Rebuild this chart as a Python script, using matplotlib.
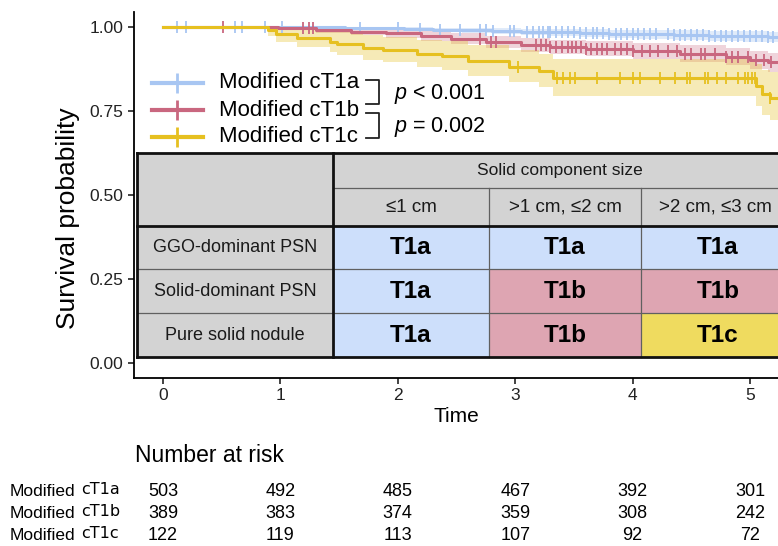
import numpy as np
import matplotlib
matplotlib.use('Agg')
import matplotlib.pyplot as plt
from matplotlib.patches import Rectangle
from matplotlib.transforms import blended_transform_factory

plt.rcParams['font.family'] = ['Liberation Sans', 'DejaVu Sans']
plt.rcParams['mathtext.fontset'] = 'custom'
plt.rcParams['mathtext.rm'] = 'Liberation Sans'
plt.rcParams['mathtext.it'] = 'Liberation Sans:italic'

# --- survival curves (step points) ---
groups = ['cT1a', 'cT1b', 'cT1c']
colors = ['#a8c6f2', '#c9677f', '#e6c020']

t1a_time = [0, 1.30, 1.55, 1.80, 2.05, 2.30, 2.55, 2.80, 3.05, 3.30, 3.55, 3.80, 4.05,
            4.35, 4.65, 4.95, 5.15, 5.40]
t1a_surv = [1.0, 0.999, 0.997, 0.996, 0.994, 0.992, 0.990, 0.988, 0.986, 0.984, 0.982,
            0.980, 0.978, 0.976, 0.974, 0.972, 0.970, 0.970]
t1a_lo = [1.0, 0.997, 0.993, 0.991, 0.988, 0.985, 0.982, 0.979, 0.976, 0.973, 0.970,
          0.967, 0.964, 0.962, 0.959, 0.956, 0.954, 0.954]
t1a_hi = [1.0, 1.0, 1.0, 1.0, 0.999, 0.998, 0.997, 0.996, 0.995, 0.994, 0.993, 0.992,
          0.991, 0.990, 0.989, 0.987, 0.986, 0.986]
t1a_cens = [0.12, 0.20, 0.61, 0.67, 0.87, 1.01, 1.68, 2.00, 2.19, 2.36, 2.53, 2.70, 2.75,
            2.81, 2.96, 2.99, 3.10, 3.15, 3.20, 3.24, 3.28, 3.30, 3.35, 3.40, 3.45, 3.50,
            3.55, 3.60, 3.66, 3.70, 3.75, 3.80, 3.86, 3.90, 3.95, 4.00, 4.05, 4.10, 4.15,
            4.20, 4.30, 4.35, 4.40, 4.45, 4.50, 4.55, 4.60, 4.65, 4.70, 4.75, 4.80, 4.85,
            4.90, 4.95, 5.00, 5.05, 5.10, 5.15, 5.20]

t1b_time = [0, 0.98, 1.30, 1.60, 1.90, 2.20, 2.45, 2.75, 3.05, 3.30, 3.60, 4.00, 4.40,
            4.80, 5.00, 5.15, 5.40]
t1b_surv = [1.0, 0.997, 0.990, 0.986, 0.981, 0.973, 0.965, 0.955, 0.947, 0.940, 0.935,
            0.928, 0.921, 0.912, 0.903, 0.895, 0.895]
t1b_lo = [1.0, 0.991, 0.981, 0.975, 0.968, 0.958, 0.948, 0.936, 0.927, 0.919, 0.913,
          0.905, 0.897, 0.886, 0.876, 0.866, 0.866]
t1b_hi = [1.0, 1.0, 0.999, 0.997, 0.994, 0.988, 0.982, 0.974, 0.967, 0.961, 0.957,
          0.951, 0.945, 0.938, 0.930, 0.924, 0.924]
t1b_cens = [0.51, 1.19, 1.24, 1.28, 2.70, 2.79, 2.84, 3.18, 3.22, 3.26, 3.30, 3.35, 3.40,
            3.45, 3.48, 3.52, 3.56, 3.60, 3.65, 3.70, 3.74, 3.78, 3.85, 3.90, 3.95, 4.00,
            4.08, 4.15, 4.22, 4.30, 4.38, 4.45, 4.50, 4.58, 4.62, 4.70, 4.80, 4.85, 4.90,
            4.98, 5.05, 5.12, 5.18]

t1c_time = [0, 0.895, 0.96, 1.14, 1.42, 1.48, 1.70, 1.87, 2.16, 2.38, 2.60, 2.95, 3.20,
            3.32, 5.05, 5.10, 5.17, 5.40]
t1c_surv = [1.0, 0.990, 0.979, 0.968, 0.956, 0.950, 0.937, 0.932, 0.920, 0.913, 0.898,
            0.882, 0.868, 0.848, 0.825, 0.800, 0.790, 0.790]
t1c_lo = [1.0, 0.972, 0.955, 0.940, 0.925, 0.917, 0.901, 0.895, 0.880, 0.872, 0.855,
          0.836, 0.820, 0.795, 0.765, 0.738, 0.722, 0.722]
t1c_hi = [1.0, 1.0, 1.0, 0.995, 0.988, 0.984, 0.975, 0.971, 0.962, 0.957, 0.945, 0.932,
          0.921, 0.905, 0.890, 0.872, 0.865, 0.865]
t1c_cens = [3.02, 3.36, 3.41, 3.47, 3.51, 3.70, 3.89, 4.00, 4.06, 4.23, 4.36, 4.46, 4.49,
            4.62, 4.64, 4.72, 4.80, 4.90, 4.96, 4.98, 5.02, 5.04, 5.17]

# --- number at risk ---
risk_times = [0, 1, 2, 3, 4, 5]
risk_t1a = [503, 492, 485, 467, 392, 301]
risk_t1b = [389, 383, 374, 359, 308, 242]
risk_t1c = [122, 119, 113, 107, 92, 72]

# --- inset classification table ---
row_labels = ['GGO-dominant PSN', 'Solid-dominant PSN', 'Pure solid nodule']
col_labels = ['\u22641 cm', '>1 cm, \u22642 cm', '>2 cm, \u22643 cm']
stage_grid = [['T1a', 'T1a', 'T1a'],
              ['T1a', 'T1b', 'T1b'],
              ['T1a', 'T1b', 'T1c']]
stage_colors = {'T1a': '#cddffb', 'T1b': '#dea5b2', 'T1c': '#efdb5f'}
gray = '#d3d3d3'

W, H = 778, 546
fig = plt.figure(figsize=(W / 100, H / 100), dpi=100)
ax = fig.add_axes([134 / W, (H - 378) / H, 1 - 134 / W, (378 - 12) / H])
ax.set_xlim(-0.247, 5.239)
ax.set_ylim(-0.0446, 1.0446)

series = [
    (t1a_time, t1a_surv, t1a_lo, t1a_hi, t1a_cens),
    (t1b_time, t1b_surv, t1b_lo, t1b_hi, t1b_cens),
    (t1c_time, t1c_surv, t1c_lo, t1c_hi, t1c_cens),
]
band_alpha = [0.35, 0.28, 0.32]
for (tt, ss, lo, hi, cens), col, a in zip(series, colors, band_alpha):
    ax.fill_between(tt, lo, hi, step='post', color=col, alpha=a, lw=0)
for (tt, ss, lo, hi, cens), col in zip(series, colors):
    ax.step(tt, ss, where='post', color=col, lw=2.2)
    idx = np.searchsorted(tt, cens, side='right') - 1
    ax.plot(cens, np.asarray(ss)[idx], ls='none', marker='|', ms=9, mew=1.3, color=col)

for s in ['top', 'right']:
    ax.spines[s].set_visible(False)
for s in ['left', 'bottom']:
    ax.spines[s].set_linewidth(1.3)
ax.set_xticks(risk_times)
ax.set_yticks([0, 0.25, 0.5, 0.75, 1.0])
ax.set_yticklabels(['0.00', '0.25', '0.50', '0.75', '1.00'])
ax.tick_params(labelsize=12.5, length=4.5, width=1.2, colors='#222222', pad=3)

# overlay in pixel coordinates for annotations
ov = fig.add_axes([0, 0, 1, 1])
ov.set_xlim(0, W)
ov.set_ylim(H, 0)
ov.axis('off')

ov.text(68, 218, 'Survival probability', rotation=90, ha='center', va='center', fontsize=19)
ov.text(456, 416, 'Time', ha='center', va='center', fontsize=15)

# legend
leg_y = [83, 110, 137]
for g, col, y in zip(groups, colors, leg_y):
    ov.plot([152, 203], [y, y], color=col, lw=3)
    ov.plot([177.5], [y], marker='|', ms=14, mew=2, color=col)
    ov.text(219, y, 'Modified ' + g, ha='left', va='center', fontsize=16)

# brackets with p-values
for y0, y1 in [(80, 104), (113, 138)]:
    ov.plot([366, 379, 379, 366], [y0, y0, y1, y1], color='#222222', lw=1.3)
ov.text(394, 94, r'$p$ < 0.001', ha='left', va='center', fontsize=15.5)
ov.text(394, 127, r'$p$ = 0.002', ha='left', va='center', fontsize=15.5)

# inset table
col_edges = [137, 333, 489, 641, 795]
row_edges = [153, 188, 226, 269, 313, 357]


def cell(x0, y0, x1, y1, fc):
    ov.add_patch(Rectangle((x0, y0), x1 - x0, y1 - y0, fc=fc, ec='none'))


cell(col_edges[0], row_edges[0], col_edges[-1], row_edges[2], gray)
for i, lab in enumerate(row_labels):
    y0, y1 = row_edges[i + 2], row_edges[i + 3]
    cell(col_edges[0], y0, col_edges[1], y1, gray)
    ov.text((col_edges[0] + col_edges[1]) / 2, (y0 + y1) / 2, lab,
            ha='center', va='center', fontsize=13, color='#1a1a1a')
    for j, st in enumerate(stage_grid[i]):
        x0, x1 = col_edges[j + 1], col_edges[j + 2]
        cell(x0, y0, x1, y1, stage_colors[st])
        ov.text((x0 + x1) / 2, (y0 + y1) / 2, st, ha='center', va='center',
                fontsize=17.5, fontweight='bold')
ov.text((col_edges[1] + col_edges[-1]) / 2 - 4, (row_edges[0] + row_edges[1]) / 2,
        'Solid component size', ha='center', va='center', fontsize=12.5, color='#1a1a1a')
for j, lab in enumerate(col_labels):
    ov.text((col_edges[j + 1] + col_edges[j + 2]) / 2 - (3 if j == 2 else 0),
            (row_edges[1] + row_edges[2]) / 2, lab, ha='center', va='center',
            fontsize=13.5, color='#1a1a1a')

thin = dict(color='#606060', lw=0.9)
thick = dict(color='#111111', lw=2)
ov.plot([col_edges[1], col_edges[-1]], [row_edges[1]] * 2, **thin)
for y in row_edges[3:5]:
    ov.plot([col_edges[0], col_edges[-1]], [y, y], **thin)
for x in col_edges[2:4]:
    ov.plot([x, x], [row_edges[1], row_edges[-1]], **thin)
for y in [row_edges[0], row_edges[2], row_edges[-1]]:
    ov.plot([col_edges[0], col_edges[-1]], [y, y], **thick)
for x in col_edges[:2]:
    ov.plot([x, x], [row_edges[0], row_edges[-1]], **thick)

# number at risk table
ov.text(135, 455, 'Number at risk', ha='left', va='center', fontsize=16.5)
tr = blended_transform_factory(ax.transData, ov.transData)
risk_y = [491, 513, 535]
for g, counts, y in zip(groups, [risk_t1a, risk_t1b, risk_t1c], risk_y):
    ov.text(10, y, 'Modified', ha='left', va='center', fontsize=12.5)
    ov.text(81, y - 1, g, ha='left', va='center', fontsize=11.5, family=['DejaVu Sans'])
    for t, n in zip(risk_times, counts):
        ov.text(t, y, str(n), ha='center', va='center', fontsize=13, transform=tr)

fig.savefig('out.png', dpi=100)
